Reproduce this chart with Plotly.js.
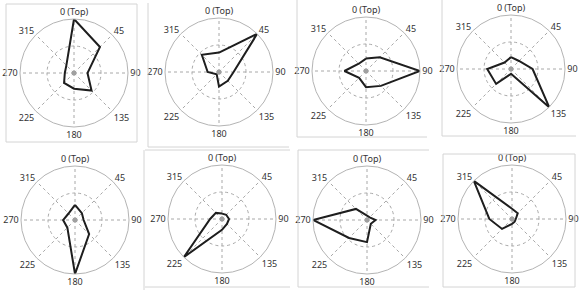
<!DOCTYPE html>
<html>
<head>
<meta charset="utf-8">
<script src="https://cdn.plot.ly/plotly-3.0.1.min.js"></script>
<style>html,body{margin:0;padding:0;background:#fff;}#chart{width:586px;height:304px;}</style>
</head>
<body>
<div id="chart"></div>
<script>
// Directions (degrees clockwise from top)
const directions = [0, 45, 90, 135, 180, 225, 270, 315];
const tickLabels = ['0 (Top)', '45', '90', '135', '180', '225', '270', '315'];

// Relative magnitudes per panel (0..1), one per direction
const panel1 = [1.00, 0.68, 0.25, 0.46, 0.29, 0.26, 0.17, 0.20];
const panel2 = [0.36, 1.00, 0.27, 0.23, 0.27, 0.06, 0.21, 0.45];
const panel3 = [0.23, 0.36, 1.00, 0.39, 0.30, 0.18, 0.40, 0.19];
const panel4 = [0.22, 0.21, 0.40, 1.00, 0.09, 0.39, 0.44, 0.17];
const panel5 = [0.28, 0.18, 0.16, 0.37, 1.00, 0.20, 0.22, 0.17];
const panel6 = [0.10, 0.11, 0.13, 0.13, 0.20, 1.00, 0.22, 0.16];
const panel7 = [0.08, 0.07, 0.16, 0.10, 0.41, 0.47, 1.00, 0.29];
const panel8 = [0.19, 0.15, 0.07, 0.07, 0.09, 0.26, 0.42, 1.00];
const centerR = [0];
const centerTheta = [0];

const panels = [panel1, panel2, panel3, panel4, panel5, panel6, panel7, panel8];

// Layout geometry (pixels): circle centres and radii
const W = 586, H = 304;
const geom = [
  {cx: 74, cy: 73, R: 54},
  {cx: 219, cy: 72, R: 54},
  {cx: 366, cy: 71, R: 54},
  {cx: 511, cy: 69, R: 54},
  {cx: 75, cy: 220, R: 54},
  {cx: 222, cy: 219, R: 54},
  {cx: 367, cy: 220, R: 54},
  {cx: 512, cy: 219, R: 54}
];

const traces = [];
const layout = {
  width: W, height: H,
  margin: {l: 0, r: 0, t: 0, b: 0},
  paper_bgcolor: '#ffffff',
  showlegend: false,
  font: {family: 'Noto Sans, sans-serif', size: 9, color: '#333333'},
  shapes: []
};

panels.forEach((vals, i) => {
  const key = i === 0 ? 'polar' : 'polar' + (i + 1);
  const sub = key;
  const g = geom[i];
  layout[key] = {
    domain: {
      x: [(g.cx - g.R) / W, (g.cx + g.R) / W],
      y: [1 - (g.cy + g.R) / H, 1 - (g.cy - g.R) / H]
    },
    bgcolor: '#ffffff',
    angularaxis: {
      rotation: 90, direction: 'clockwise',
      tickmode: 'array', tickvals: directions, ticktext: tickLabels,
      ticks: '', showline: true, linecolor: '#b4b4b4', linewidth: 1,
      showgrid: true, gridcolor: '#a8a8a8', griddash: '3px,3px', gridwidth: 1,
      tickfont: {size: 9, color: '#333333', family: 'Noto Sans, sans-serif'}
    },
    radialaxis: {
      range: [0, 1], tickmode: 'array', tickvals: [0.5],
      showticklabels: false, ticks: '', showline: false,
      showgrid: true, gridcolor: '#a8a8a8', griddash: '3px,3px', gridwidth: 1
    }
  };
  traces.push({
    type: 'scatterpolar', subplot: sub, mode: 'lines',
    r: vals.concat([vals[0]]), theta: directions.concat([directions[0]]),
    line: {color: '#1e1e1e', width: 2}, hoverinfo: 'skip'
  });
  traces.push({
    type: 'scatterpolar', subplot: sub, mode: 'markers',
    r: centerR, theta: centerTheta,
    marker: {color: '#a0a0a0', size: 5}, hoverinfo: 'skip'
  });
});

// Panel frame lines (pixel coordinates -> paper)
const frameLines = [
  [6, 4, 137, 4], [6, 4, 6, 142], [137, 4, 137, 142], [6, 142, 137, 142],
  [148, 3, 148, 147], [148, 147, 289, 147],
  [297, 0, 297, 137], [297, 137, 427, 137],
  [442, 0, 442, 136], [442, 136, 576, 136],
  [144, 150, 144, 290],
  [145, 150, 290, 150], [145, 287, 290, 287],
  [298, 150, 298, 287], [298, 150, 429, 150], [298, 287, 429, 287],
  [443, 154, 443, 287], [443, 154, 575, 154], [575, 154, 575, 287], [443, 287, 575, 287]
];
frameLines.forEach(f => {
  layout.shapes.push({
    type: 'line', xref: 'paper', yref: 'paper',
    x0: f[0] / W, y0: 1 - f[1] / H, x1: f[2] / W, y1: 1 - f[3] / H,
    line: {color: '#d4d4d4', width: 1}
  });
});

Plotly.newPlot('chart', traces, layout, {staticPlot: true, displayModeBar: false});
</script>
</body>
</html>
